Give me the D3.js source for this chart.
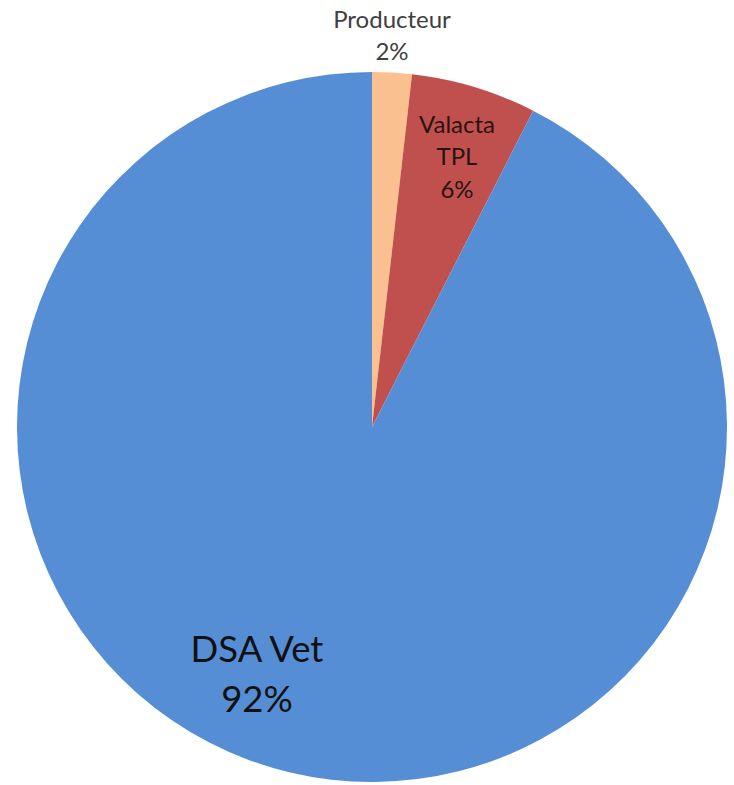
<!DOCTYPE html>
<html><head><meta charset="utf-8">
<script src="https://cdn.jsdelivr.net/npm/d3@7"></script>
<style>html,body{margin:0;padding:0;background:#fff;}</style>
</head><body>
<svg id="chart" width="734" height="785"></svg>
<script>
const categories = ["Producteur", "Valacta TPL", "DSA Vet"];
const values = [1.8, 5.7, 92.5];
const percentLabels = ["2%", "6%", "92%"];
const colors = ["#FAC090", "#C0504D", "#558ED5"];

const svg = d3.select("#chart");
const cx = 372, cy = 427, r = 355;
const g = svg.append("g").attr("transform", `translate(${cx},${cy})`);

const pie = d3.pie().sort(null).value(d => d)(values);
const arc = d3.arc().innerRadius(0).outerRadius(r);
g.selectAll("path").data(pie).enter().append("path")
  .attr("d", arc).attr("fill", (d, i) => colors[i]);

const font = "Lato, 'Open Sans', sans-serif";
// Producteur (outside)
const t0 = svg.append("text").attr("font-family", font).attr("font-size", 24)
  .attr("fill", "#404040").attr("text-anchor", "middle");
t0.append("tspan").attr("x", 392).attr("y", 28).text(categories[0]);
t0.append("tspan").attr("x", 392).attr("y", 60).text(percentLabels[0]);

// Valacta TPL
const t1 = svg.append("text").attr("font-family", font).attr("font-size", 24)
  .attr("fill", "#2a1212").attr("text-anchor", "middle");
t1.append("tspan").attr("x", 457).attr("y", 133).text("Valacta");
t1.append("tspan").attr("x", 457).attr("y", 165).text("TPL");
t1.append("tspan").attr("x", 457).attr("y", 198).text(percentLabels[1]);

// DSA Vet
const t2 = svg.append("text").attr("font-family", font).attr("font-size", 36.5)
  .attr("fill", "#111").attr("text-anchor", "middle");
t2.append("tspan").attr("x", 257).attr("y", 662).text(categories[2]);
t2.append("tspan").attr("x", 257).attr("y", 712).text(percentLabels[2]);
</script>
</body></html>
